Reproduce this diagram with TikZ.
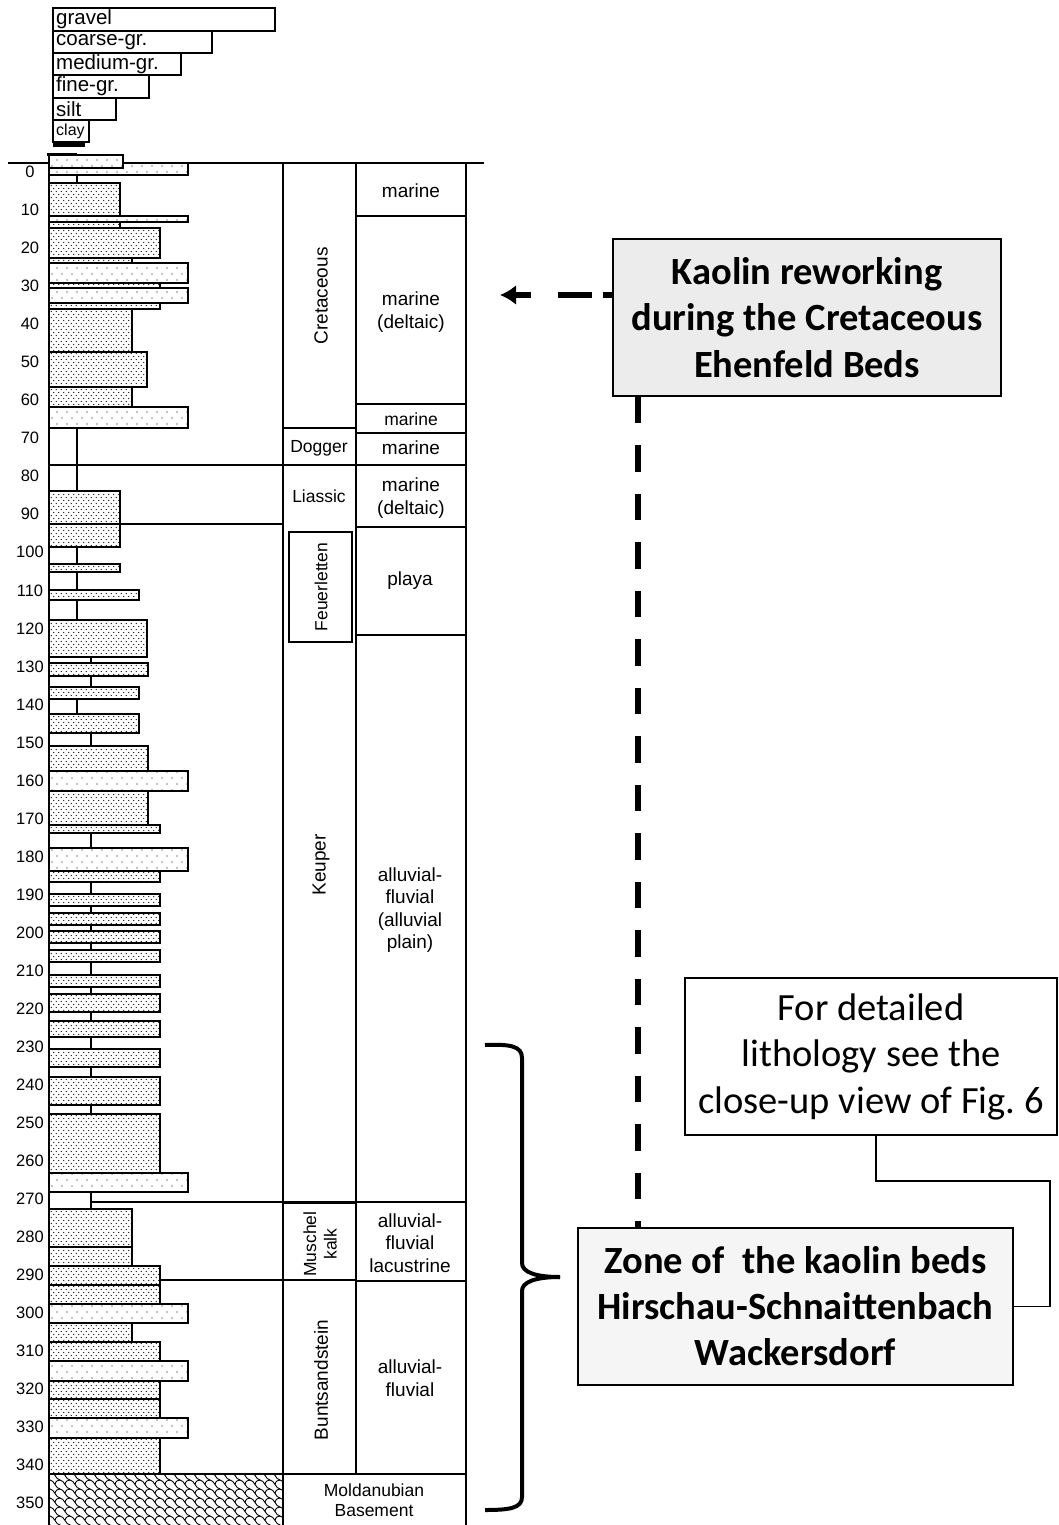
\documentclass[tikz,border=0pt]{standalone}
\usepackage{fontspec}
\setmainfont{Liberation Sans}
\newfontfamily\calib{Carlito}
\usetikzlibrary{patterns,arrows.meta}

\pgfdeclarepatternformonly{densedots}{\pgfqpoint{-1pt}{-1pt}}{\pgfqpoint{6pt}{7pt}}{\pgfqpoint{5pt}{6pt}}{%
  \pgfpathcircle{\pgfqpoint{1.25pt}{1.5pt}}{0.65pt}%
  \pgfpathcircle{\pgfqpoint{3.75pt}{4.5pt}}{0.65pt}%
  \pgfusepath{fill}}
\pgfdeclarepatternformonly{sparsedots}{\pgfqpoint{-1pt}{-1pt}}{\pgfqpoint{11pt}{13pt}}{\pgfqpoint{10pt}{12pt}}{%
  \pgfpathcircle{\pgfqpoint{2pt}{3pt}}{0.7pt}%
  \pgfpathcircle{\pgfqpoint{7pt}{9pt}}{0.7pt}%
  \pgfusepath{fill}}
\pgfdeclarepatternformonly{scales}{\pgfqpoint{-1pt}{-1pt}}{\pgfqpoint{11pt}{10pt}}{\pgfqpoint{10pt}{9pt}}{%
  \pgfsetlinewidth{0.9pt}%
  \pgfpathmoveto{\pgfqpoint{0pt}{9pt}}%
  \pgfpathcurveto{\pgfqpoint{4pt}{9pt}}{\pgfqpoint{6pt}{0pt}}{\pgfqpoint{10pt}{0pt}}%
  \pgfpathmoveto{\pgfqpoint{5pt}{4.5pt}}%
  \pgfpathcurveto{\pgfqpoint{5.5pt}{8pt}}{\pgfqpoint{8pt}{9pt}}{\pgfqpoint{10pt}{9pt}}%
  \pgfusepath{stroke}}

\begin{document}
\begin{tikzpicture}[x=1pt,y=-1pt,
  colline/.style={line width=1.7pt},
  bedd/.style={draw, line width=1.9pt, preaction={fill=white}, pattern=densedots},
  beds/.style={draw, line width=1.9pt, preaction={fill=white}, pattern=sparsedots},
  conn/.style={line width=1.9pt},
  lab/.style={font=\fontsize{19}{22.5}\selectfont, align=center, inner sep=0pt},
  slab/.style={font=\fontsize{17.5}{20.5}\selectfont, align=center, inner sep=0pt},
  dlab/.style={font=\fontsize{16.5}{18}\selectfont, inner sep=0pt},
  legbox/.style={draw, line width=1.6pt},
  legtext/.style={anchor=west, inner sep=0pt, font=\fontsize{20.5}{22}\selectfont},
  bigbox/.style={draw, line width=1.8pt, align=center, inner sep=0pt, minimum height=157pt},
  dashconn/.style={line width=5.5pt}
]
\fill[white] (0,0) rectangle (1059,1525);
\useasboundingbox (0,0) rectangle (1059,1525);

% ---------- legend ----------
\draw[legbox] (53,8) rectangle (275,31);
\draw[legbox] (53,31) rectangle (212,53);
\draw[legbox] (53,53) rectangle (181,75);
\draw[legbox] (53,75) rectangle (149,98);
\draw[legbox] (53,98) rectangle (116,120);
\draw[legbox] (53,120) rectangle (89,142);
\draw[line width=4pt] (53,145.5) -- (85,145.5);
\node[legtext] (lg1) at (56,19.5) {gravel};
\node[legtext] (lg2) at (56,42) {coarse-gr.};
\node[legtext] (lg3) at (56,64) {medium-gr.};
\node[legtext] (lg4) at (56,86.5) {fine-gr.};
\node[legtext] (lg5) at (56,109) {silt};
\node[legtext, font=\fontsize{16}{18}\selectfont] (lg6) at (56,131) {clay};

% ---------- column frame ----------
\draw[colline] (8,163) -- (484,163);
\draw[colline] (49,163) -- (49,1525);
\draw[colline] (283,163) -- (283,1525);
\draw[colline] (356,163) -- (356,1474);
\draw[colline] (466,163) -- (466,1525);
% strat column boundaries
\draw[colline] (283,428) -- (356,428);
\draw[colline] (49,465) -- (466,465);
\draw[colline] (283,1203) -- (356,1203);
\draw[colline] (160,1280) -- (356,1280);
% environment boundaries
\draw[colline] (356,216) -- (466,216);
\draw[colline] (356,404) -- (466,404);
\draw[colline] (356,433) -- (466,433);
\draw[colline] (356,527) -- (466,527);
\draw[colline] (356,635) -- (466,635);
\draw[colline] (91,1202) -- (466,1202);
\draw[colline] (356,1281) -- (466,1281);
\draw[colline] (289,532) rectangle (352,642);

% basement hatch
\fill[pattern=scales] (49,1474) rectangle (283,1525);

% ---------- connectors between beds ----------
\foreach \a/\b in {168/183,428/491,547/564,572/590,600/620,699/714}
  \draw[conn] (77,\a) -- (77,\b);
\foreach \a/\b in {657/663,676/687,733/746,833/848,882/894,906/913,925/931,943/950,962/975,987/994,1012/1021,1037/1049,1067/1077,1105/1114,1192/1209}
  \draw[conn] (91,\a) -- (91,\b);

% ---------- beds ----------
\draw[beds] (49,163) rectangle (188,175);
\draw[beds] (49,155) rectangle (123,168);
\draw[line width=3pt] (47,154.5) -- (77,154.5);
\foreach \t/\b/\r in {183/216/120,222/228/120,228/258/160,258/264/132,283/288/160,303/309/160,309/352/132,352/387/147,387/407/132,491/547/120,564/572/120,590/600/139,620/657/147,663/676/148,687/699/139,714/733/139,746/771/148,791/825/148,825/833/160,871/882/160,894/906/160,913/925/160,931/943/160,950/962/160,975/987/160,994/1012/160,1021/1037/160,1049/1067/160,1077/1105/160,1114/1173/160,1209/1247/132,1247/1266/132,1266/1285/160,1285/1304/160,1323/1342/132,1342/1361/160,1381/1399/160,1399/1418/160,1438/1474/160}
  \draw[bedd] (49,\t) rectangle (\r,\b);
\foreach \t/\b/\r in {216/222/188,263/283/188,288/303/188,407/428/188,771/791/188,848/871/188,1173/1192/188,1304/1323/188,1361/1381/188,1418/1438/188}
  \draw[beds] (49,\t) rectangle (\r,\b);
\draw[colline] (49,524) -- (283,524);
\draw[colline] (49,1474) -- (466,1474);

% ---------- depth labels ----------
\foreach \d in {0,10,...,350}
  \node[dlab] (d\d) at (30,{172+3.803*\d}) {\d};

% ---------- stratigraphy labels ----------
\node[lab, rotate=90] (cret) at (321,296) {Cretaceous};
\node[slab] (dog) at (319,448) {Dogger};
\node[slab] (lias) at (319,496) {Liassic};
\node[slab, rotate=90] (feuer) at (321,587) {Feuerletten};
\node[lab, rotate=90] (keup) at (321,865) {Keuper};
\node[slab, rotate=90] (musch) at (320,1244) {Muschel\\kalk};
\node[lab, rotate=90] (bunt) at (321,1380) {Buntsandstein};
\node[slab] (mold) at (374,1500) {Moldanubian\\Basement};

% ---------- environment labels ----------
\node[lab] (e1) at (411,191) {marine};
\node[lab] (e2) at (411,312) {marine\\(deltaic)};
\node[slab] (e3) at (411,419) {marine};
\node[lab] (e4) at (411,448) {marine};
\node[lab] (e5) at (411,498) {marine\\(deltaic)};
\node[lab] (e6) at (410,581) {playa};
\node[lab] (e7) at (410,910) {alluvial-\\fluvial\\(alluvial\\plain)};
\node[lab] (e8) at (410,1243) {alluvial-\\fluvial\\lacustrine};
\node[lab] (e9) at (410,1378) {alluvial-\\fluvial};

% ---------- brace ----------
\draw[line width=4pt] (485,1045) .. controls (510,1044) and (522,1046) .. (522,1058) -- (522,1263) .. controls (522,1272) and (535,1277) .. (560,1277);
\draw[line width=4pt] (560,1277) .. controls (535,1277) and (522,1282) .. (522,1291) -- (522,1497) .. controls (522,1508) and (510,1510) .. (485,1510);

% ---------- annotation boxes ----------
\node[bigbox, fill=gray!15, minimum width=388pt, font=\calib\bfseries\fontsize{38.5}{46.5}\selectfont] (kaolin) at (807,317.5) {Kaolin reworking\\during the Cretaceous\\Ehenfeld Beds};
\node[bigbox, fill=gray!8, minimum width=435pt, font=\calib\bfseries\fontsize{38.5}{46}\selectfont] (zone) at (795.5,1306.5) {Zone of\ \ the kaolin beds\\Hirschau-Schnaittenbach\\Wackersdorf};
\node[bigbox, fill=white, line width=1.4pt, minimum width=372pt, font=\calib\fontsize{38.5}{46.5}\selectfont] (forbox) at (871,1056.5) {For detailed\\lithology see the\\close-up view of Fig.\ 6};

\coordinate (vx) at (638,0);
\coordinate (tip) at (500,295);
\coordinate (k1) at (876,1181);
\coordinate (k2) at (1050,1181);

\draw[dashconn, dash pattern=on 9pt off 11pt on 34pt off 27pt on 100pt, -{Latex[length=16pt,width=20pt]}] (kaolin.west |- tip) -- (tip);
\draw[dashconn, dash pattern=on 26.5pt off 22pt] (kaolin.south -| vx) -- (zone.north -| vx);
\draw[line width=1.4pt] (forbox.south -| k1) -- (k1) -- (k2) |- (zone.east);
\end{tikzpicture}
\end{document}
